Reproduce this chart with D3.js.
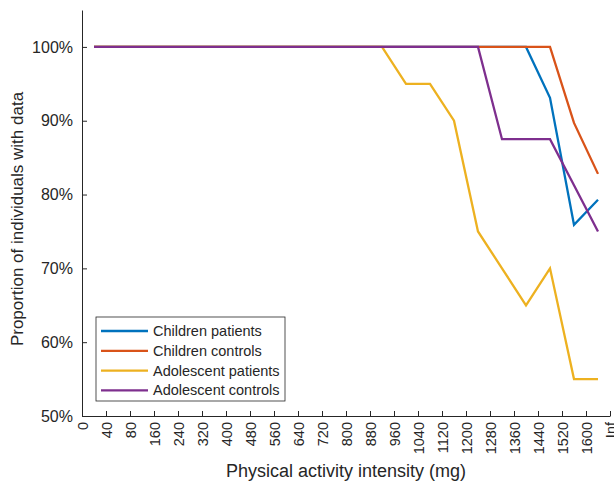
<!DOCTYPE html>
<html>
<head>
<meta charset="utf-8">
<script src="https://cdn.jsdelivr.net/npm/d3@7"></script>
<style>
  body { margin: 0; background: #fff; }
  svg { font-family: "Liberation Sans", Arial, sans-serif; }
</style>
</head>
<body>
<svg id="chart"></svg>
<script>
// Bin edges used as tick labels (bins are drawn at their centres)
const tickLabels = ["0", "40", "80", "160", "240", "320", "400", "480", "560", "640", "720",
  "800", "880", "960", "1040", "1120", "1200", "1280", "1360", "1440", "1520", "1600", "Inf"];

const yTicks = [50, 60, 70, 80, 90, 100];

const seriesNames = ["Children patients", "Children controls", "Adolescent patients", "Adolescent controls"];

// Proportion (%) per bin, 22 bins
const childrenPatients = [100, 100, 100, 100, 100, 100, 100, 100, 100, 100, 100,
  100, 100, 100, 100, 100, 100, 100, 100, 93.1, 75.9, 79.3];
const childrenControls = [100, 100, 100, 100, 100, 100, 100, 100, 100, 100, 100,
  100, 100, 100, 100, 100, 100, 100, 100, 100, 89.7, 82.8];
const adolescentPatients = [100, 100, 100, 100, 100, 100, 100, 100, 100, 100, 100,
  100, 100, 95, 95, 90, 75, 70, 65, 70, 55, 55];
const adolescentControls = [100, 100, 100, 100, 100, 100, 100, 100, 100, 100, 100,
  100, 100, 100, 100, 100, 100, 87.5, 87.5, 87.5, 81.25, 75];

const colors = ["#0072BD", "#D95319", "#EDB120", "#7E2F8E"];

const width = 614, height = 484;
const margin = { top: 10, right: 4, bottom: 68, left: 82 };
const textColor = "#262626";

const svg = d3.select("#chart").attr("width", width).attr("height", height);

const x = d3.scaleLinear()
  .domain([0, tickLabels.length - 1])
  .range([margin.left, width - margin.right]);

const y = d3.scaleLinear()
  .domain([50, 105])
  .range([height - margin.bottom, margin.top]);

// x axis
const xAxis = svg.append("g")
  .attr("transform", "translate(0," + y(50) + ")")
  .call(d3.axisBottom(x)
    .tickValues(d3.range(tickLabels.length))
    .tickFormat((i) => tickLabels[i])
    .tickSizeInner(-5)
    .tickSizeOuter(0)
    .tickPadding(6));
xAxis.select(".domain").attr("stroke", textColor);
xAxis.selectAll(".tick line").attr("stroke", textColor);
xAxis.selectAll(".tick text")
  .attr("fill", textColor)
  .attr("font-size", 14.5)
  .attr("transform", "rotate(-90)")
  .attr("text-anchor", "end")
  .attr("x", -6)
  .attr("y", 0)
  .attr("dy", "0.35em");

// y axis
const yAxis = svg.append("g")
  .attr("transform", "translate(" + margin.left + ",0)")
  .call(d3.axisLeft(y)
    .tickValues(yTicks)
    .tickFormat((d) => d + "%")
    .tickSizeInner(-5)
    .tickSizeOuter(0)
    .tickPadding(9));
yAxis.select(".domain").attr("stroke", textColor);
yAxis.selectAll(".tick line").attr("stroke", textColor);
yAxis.selectAll(".tick text").attr("fill", textColor).attr("font-size", 16);

// axis titles
svg.append("text")
  .attr("x", (x.range()[0] + x.range()[1]) / 2)
  .attr("y", 477)
  .attr("text-anchor", "middle")
  .attr("fill", textColor)
  .attr("font-size", 18)
  .text("Physical activity intensity (mg)");

svg.append("text")
  .attr("transform", "translate(23," + 219 + ") rotate(-90)")
  .attr("text-anchor", "middle")
  .attr("fill", textColor)
  .attr("font-size", 17)
  .text("Proportion of individuals with data");

// lines
const allSeries = [childrenPatients, childrenControls, adolescentPatients, adolescentControls];
const line = d3.line()
  .x((d, i) => x(i + 0.5))
  .y((d) => y(d));

svg.append("g")
  .selectAll("path")
  .data(allSeries)
  .join("path")
  .attr("fill", "none")
  .attr("stroke", (d, i) => colors[i])
  .attr("stroke-width", 2.3)
  .attr("stroke-linejoin", "miter")
  .attr("d", line);

// legend
const legend = svg.append("g").attr("transform", "translate(96,317)");
legend.append("rect")
  .attr("width", 189)
  .attr("height", 84)
  .attr("fill", "#fff")
  .attr("stroke", textColor)
  .attr("stroke-width", 0.8);

const item = legend.selectAll("g.item")
  .data(seriesNames)
  .join("g")
  .attr("class", "item")
  .attr("transform", (d, i) => "translate(0," + (14 + i * 19.8) + ")");
item.append("line")
  .attr("x1", 5).attr("x2", 52)
  .attr("stroke", (d, i) => colors[i])
  .attr("stroke-width", 2.3);
item.append("text")
  .attr("x", 57)
  .attr("dy", "0.35em")
  .attr("fill", textColor)
  .attr("font-size", 14.5)
  .text((d) => d);
</script>
</body>
</html>
